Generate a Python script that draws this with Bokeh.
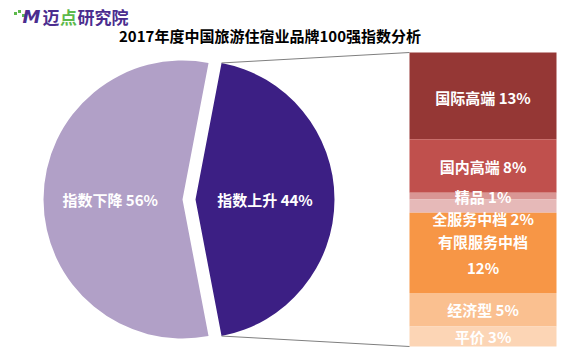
import numpy as np
from bokeh.plotting import figure
from bokeh.models import Range1d
from bokeh.core.properties import value
from bokeh.embed import file_html
from bokeh.resources import INLINE

# ---- data ----
pie_labels = ["指数下降", "指数上升"]
pie_values = [56, 44]
pie_colors = ["#B1A0C7", "#3C1F84"]

bar_labels = ["国际高端", "国内高端", "精品", "全服务中档", "有限服务中档", "经济型", "平价"]
bar_values = [13, 8, 1, 2, 12, 5, 3]
bar_colors = ["#953735", "#C0504D", "#D99694", "#E6B9B8", "#F79646", "#FAC090", "#FCD5B5"]

title_text = "2017年度中国旅游住宿业品牌100强指数分析"
logo_parts = ["迈", "点", "研究院"]

# ---- figure ----
W, H = 576, 356
p = figure(width=W, height=H, x_range=Range1d(0, W), y_range=Range1d(0, H),
           output_backend="svg", toolbar_location=None, min_border=0)
p.axis.visible = False
p.grid.visible = False
p.outline_line_color = None
p.background_fill_color = "white"
p.border_fill_color = "white"

FONT = "Noto Sans CJK SC"

# ---- pie ----
R = 139
cy = H - 199
cx_main = 182
explode = 13
total = sum(pie_values)
half = np.pi * pie_values[1] / total

p.wedge(x=cx_main, y=cy, radius=R, start_angle=half, end_angle=2 * np.pi - half,
        fill_color=pie_colors[0], line_color=None)
p.wedge(x=cx_main + explode, y=cy, radius=R, start_angle=-half, end_angle=half,
        fill_color=pie_colors[1], line_color=None)

pie_txt = [f"{l} {v}%" for l, v in zip(pie_labels, pie_values)]
p.text(x=[cx_main - 0.52 * R, cx_main + explode + 0.5 * R], y=[cy, cy], text=pie_txt,
       text_font=value(FONT), text_font_style="bold", text_font_size="15px",
       text_color="white", text_align="center", text_baseline="middle")

# ---- stacked bar ----
bx0, bx1 = 409, 556
btop = H - 52
bh = 294
scale = bh / sum(bar_values)
cum = np.concatenate([[0], np.cumsum(bar_values)])
tops = btop - cum[:-1] * scale
bottoms = btop - cum[1:] * scale
p.quad(left=bx0, right=bx1, top=tops, bottom=bottoms, fill_color=bar_colors, line_color=None)

# connector lines
tx = cx_main + explode + R * np.cos(half)
ty_top = cy + R * np.sin(half)
ty_bot = cy - R * np.sin(half)
p.segment(x0=[tx, tx], y0=[ty_top, ty_bot], x1=[bx0, bx0], y1=[btop, bottoms[-1]],
          line_color="#7F7F7F", line_width=1)

# bar labels
shift = {"全服务中档": -12, "国际高端": -1.5, "有限服务中档": -1.5}
lx, ly, lt = [], [], []
for lab, v, t, b in zip(bar_labels, bar_values, tops, bottoms):
    mid = (t + b) / 2 + shift.get(lab, 0)
    if len(lab) >= 6:
        lx += [(bx0 + bx1) / 2] * 2
        ly += [mid + 13, mid - 13]
        lt += [lab, f"{v}%"]
    else:
        lx.append((bx0 + bx1) / 2)
        ly.append(mid)
        lt.append(f"{lab} {v}%")
p.text(x=lx, y=ly, text=lt, text_font=value(FONT), text_font_style="bold",
       text_font_size="15px", text_color="white", text_align="center", text_baseline="middle")

# ---- title ----
p.text(x=[269.5], y=[H - 35], text=[title_text], text_font=value(FONT),
       text_font_style="bold", text_font_size="15px", text_color="black",
       text_align="center", text_baseline="middle")

# ---- logo ----
p.scatter(x=[15, 19, 23], y=[H - 13, H - 11, H - 15], marker="square", size=3,
          fill_color="#5DB94B", line_color=None)
p.text(x=[22], y=[H - 16], text=["M"], text_font=value("DejaVu Sans"),
       text_font_style="bold italic", text_font_size="18px", text_color="#4B2D8F",
       text_align="left", text_baseline="middle")
p.text(x=[42, 59.5, 77], y=[H - 16] * 3, text=logo_parts, text_font=value(FONT),
       text_font_style="bold", text_font_size="17px",
       text_color=["#4B2D8F", "#5DB94B", "#4B2D8F"],
       text_align="left", text_baseline="middle")

open("out.html", "w").write(file_html(p, INLINE))
